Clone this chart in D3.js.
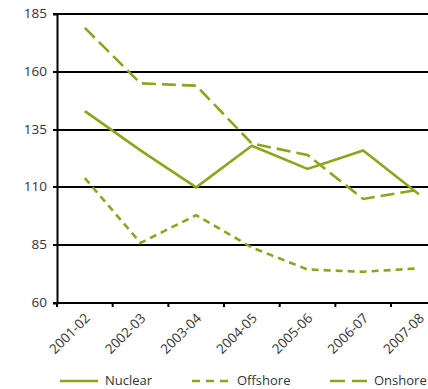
<!DOCTYPE html>
<html>
<head>
<meta charset="utf-8">
<script src="https://cdn.jsdelivr.net/npm/d3@7/dist/d3.min.js"></script>
<style>
  html, body { margin: 0; padding: 0; background: #fff; }
  svg { display: block; }
  text { font-family: "Open Sans", sans-serif; fill: #333; }
</style>
</head>
<body>
<svg id="chart" width="428" height="389"></svg>
<script>
// Financial years on the x axis
const years = ["2001-02", "2002-03", "2003-04", "2004-05", "2005-06", "2006-07", "2007-08"];

// Series values per year
const nuclear  = [143, 126, 110, 128, 118, 126, 107];
const offshore = [114, 86, 98, 84, 74.5, 73.5, 75];
const onshore  = [179, 155, 154, 129, 124, 105, 109];

// Y axis tick labels
const yTicks = [60, 85, 110, 135, 160, 185];

const seriesNames = ["Nuclear", "Offshore", "Onshore"];
const seriesValues = [nuclear, offshore, onshore];
const dashes = [null, "7,5", "14,6"];
const green = "#8ba61b";

const svg = d3.select("#chart");
const W = 428;

const x = d3.scaleBand().domain(years).range([57, 446.7]).paddingInner(0).paddingOuter(0);
const y = d3.scaleLinear().domain([60, 185]).range([303, 14]);

// Horizontal gridlines
svg.append("g")
  .selectAll("line")
  .data(yTicks)
  .join("line")
  .attr("x1", 57).attr("x2", W)
  .attr("y1", d => Math.round(y(d)))
  .attr("y2", d => Math.round(y(d)))
  .attr("stroke", "#000")
  .attr("stroke-width", 2);

// Y axis
const yAxis = svg.append("g")
  .attr("transform", "translate(57,0)")
  .call(d3.axisLeft(y).tickValues(yTicks).tickSize(4).tickPadding(6));
yAxis.select(".domain").attr("stroke", "#000").attr("stroke-width", 2);
yAxis.selectAll(".tick line").attr("stroke", "#000").attr("stroke-width", 2);
yAxis.selectAll(".tick").attr("transform", d => `translate(0,${Math.round(y(d))})`);
yAxis.selectAll("text")
  .style("font-family", "'Open Sans', sans-serif")
  .style("font-size", "13.5px")
  .attr("fill", "#333");

// X axis: ticks on band boundaries, labels on band centres
const xAxisG = svg.append("g").attr("transform", "translate(0,303)");
xAxisG.append("line")
  .attr("x1", 57).attr("x2", W)
  .attr("y1", 0).attr("y2", 0)
  .attr("stroke", "#000").attr("stroke-width", 2);
xAxisG.selectAll("line.tk")
  .data(years)
  .join("line")
  .attr("class", "tk")
  .attr("x1", d => x(d)).attr("x2", d => x(d))
  .attr("y1", 0).attr("y2", 4)
  .attr("stroke", "#000").attr("stroke-width", 2);
xAxisG.selectAll("text")
  .data(years)
  .join("text")
  .attr("transform", d => `translate(${x(d) + x.bandwidth() / 2 + 6},16) rotate(-45)`)
  .attr("text-anchor", "end")
  .style("font-size", "13.5px")
  .text(d => d);

// Series lines
const line = d3.line()
  .x((d, i) => x(years[i]) + x.bandwidth() / 2)
  .y(d => y(d));

svg.append("g")
  .selectAll("path")
  .data(seriesValues)
  .join("path")
  .attr("d", d => line(d))
  .attr("fill", "none")
  .attr("stroke", green)
  .attr("stroke-width", 2.6)
  .attr("stroke-dasharray", (d, i) => dashes[i]);

// Legend
const legendX = [60, 192, 330];
const legend = svg.append("g")
  .selectAll("g")
  .data(seriesNames)
  .join("g")
  .attr("transform", (d, i) => `translate(${legendX[i]},381)`);
legend.append("line")
  .attr("x1", 0).attr("x2", (d, i) => i === 1 ? 36 : 38)
  .attr("y1", 0).attr("y2", 0)
  .attr("stroke", green)
  .attr("stroke-width", 2.6)
  .attr("stroke-dasharray", (d, i) => i === 1 ? "8,6" : (i === 2 ? "15,7" : null));
legend.append("text")
  .attr("x", (d, i) => i === 2 ? 44 : 45)
  .attr("y", 4)
  .style("font-size", "13px")
  .text(d => d);
</script>
</body>
</html>
